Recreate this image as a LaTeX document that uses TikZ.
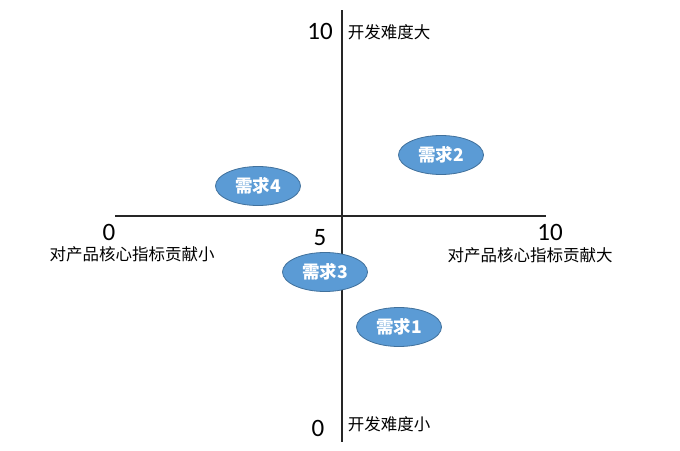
\documentclass[tikz,border=0pt]{standalone}
\usepackage{fontspec}
\setmainfont{Carlito}
\newfontfamily\cjk{Noto Sans CJK SC}
\usetikzlibrary{shapes.geometric}
\definecolor{reqfill}{HTML}{5B9BD5}
\definecolor{reqedge}{HTML}{41719C}
\tikzset{
  req/.style={ellipse, fill=reqfill, draw=reqedge, line width=0.8pt,
    minimum width=85pt, minimum height=39pt, inner sep=0pt,
    text=white, font=\cjk\bfseries\fontsize{17.5}{17.5}\selectfont},
  num/.style={font=\fontsize{25}{25}\selectfont, inner sep=0pt, text depth=0pt},
  lbl/.style={font=\cjk\fontsize{16.5}{16.5}\selectfont, inner sep=0pt},
}
\begin{document}
\begin{tikzpicture}[x=1pt, y=-1pt]
        \useasboundingbox (0,0) rectangle (680,450);
        % axes
        \coordinate (ytop) at (342,10);
        \coordinate (ybot) at (342,442);
        \coordinate (xleft) at (115,216);
        \coordinate (xright) at (546,216);
        \draw [line width=1.2pt, black!85] (ytop)--(ybot);
        \draw [line width=1.2pt, black!85] (xleft)--(xright);
        % scale labels
        \node (n10top) at (320,31) [num]{10};
        \node (ybig) at (389,32) [lbl]{开发难度大};
        \node (n0bot) at (318,428) [num]{0};
        \node (ysmall) at (389,424) [lbl]{开发难度小};
        \node (n0left) at (109,232) [num]{0};
        \node (xsmall) at (132,254) [lbl]{对产品核心指标贡献小};
        \node (n10right) at (550,232) [num]{10};
        \node (xbig) at (530,255) [lbl]{对产品核心指标贡献大};
        \node (n5) at (320,237) [num]{5};
        % requirements
        \node (req1) at (399,327) [req]{需求1};
        \node (req2) at (441,155) [req]{需求2};
        \node (req3) at (325,272) [req]{需求3};
        \node (req4) at (258,186) [req]{需求4};
\end{tikzpicture}
\end{document}
